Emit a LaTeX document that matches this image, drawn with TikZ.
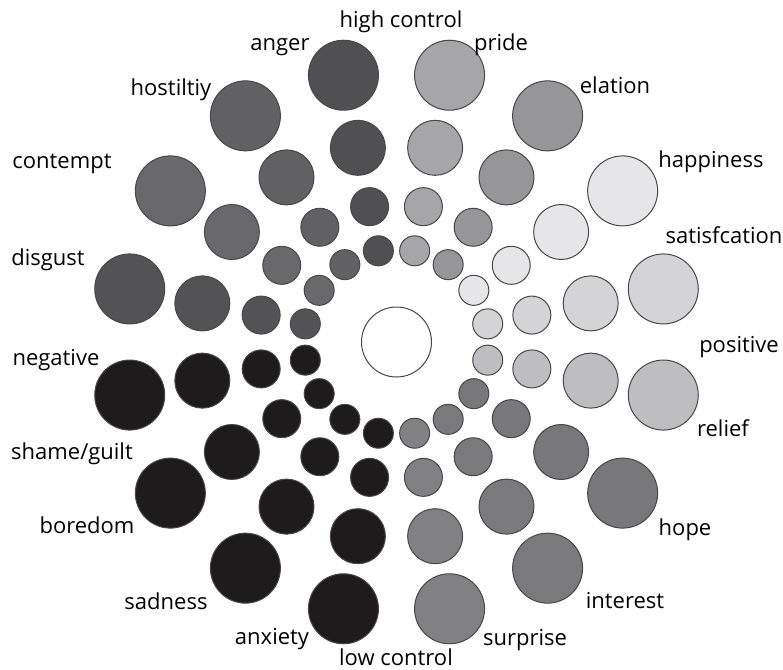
\documentclass[tikz,border=0pt]{standalone}
\usepackage{fontspec}
\setmainfont{Open Sans}
\usetikzlibrary{positioning}
\definecolor{pride}{HTML}{A6A6A8}
\definecolor{elation}{HTML}{969698}
\definecolor{happiness}{HTML}{E6E6E8}
\definecolor{satisf}{HTML}{D4D4D6}
\definecolor{relief}{HTML}{BEBEC0}
\definecolor{hope}{HTML}{78787A}
\definecolor{interest}{HTML}{7A7A7C}
\definecolor{surprise}{HTML}{818183}
\definecolor{anxiety}{HTML}{1E1B1C}
\definecolor{sadness}{HTML}{1E1B1C}
\definecolor{boredom}{HTML}{1E1B1C}
\definecolor{shame}{HTML}{1E1B1C}
\definecolor{disgust}{HTML}{535355}
\definecolor{contempt}{HTML}{69696B}
\definecolor{hostility}{HTML}{616163}
\definecolor{anger}{HTML}{505052}
\tikzset{bub/.style={circle,draw=black!72,line width=1pt,inner sep=0pt},
  lab/.style={anchor=base,inner sep=0pt,font=\fontsize{22}{22}\selectfont}}

\begin{document}
\begin{tikzpicture}[x=1pt,y=-1pt]
\useasboundingbox (0,0) rectangle (783,669);
\coordinate (o) at (396.5,342);
\node[bub,fill=white,minimum size=70pt] (mid) at (o) {};
% four rings per emotion, clockwise from high control
\begin{scope}[shift={(o)}]
\foreach \emo [count=\k] in {pride,elation,happiness,satisf,relief,hope,interest,surprise,anxiety,sadness,boredom,shame,disgust,contempt,hostility,anger}
  \foreach \d/\r [count=\j] in {93/15,138/19,198/27.5,272/35}
    \node[bub,fill=\emo,minimum size=2*\r pt] (\emo-\j) at (22.5*\k-101.25:\d) {};
\end{scope}
% axis labels
\node[lab] (t-high) at (401,28) {high control};
\node[lab] (t-low) at (396,665) {low control};
\node[lab] (t-pos) at (739,352) {positive};
\node[lab] (t-neg) at (56,365) {negative};
% emotion labels
\node[lab] (t-pride) at (501,51) {pride};
\node[lab] (t-elation) at (615,93) {elation};
\node[lab] (t-happiness) at (711,167) {happiness};
\node[lab] (t-satisf) at (724,243) {satisfcation};
\node[lab] (t-relief) at (723,436) {relief};
\node[lab] (t-hope) at (685,535) {hope};
\node[lab] (t-interest) at (625,608) {interest};
\node[lab] (t-surprise) at (525,645) {surprise};
\node[lab] (t-anxiety) at (272,644) {anxiety};
\node[lab] (t-sadness) at (166,609) {sadness};
\node[lab] (t-boredom) at (87,533) {boredom};
\node[lab] (t-shame) at (72,459) {shame/guilt};
\node[lab] (t-disgust) at (48,265) {disgust};
\node[lab] (t-contempt) at (62,168) {contempt};
\node[lab] (t-hostility) at (171,95) {hostiltiy};
\node[lab] (t-anger) at (280,51) {anger};
\end{tikzpicture}
\end{document}
